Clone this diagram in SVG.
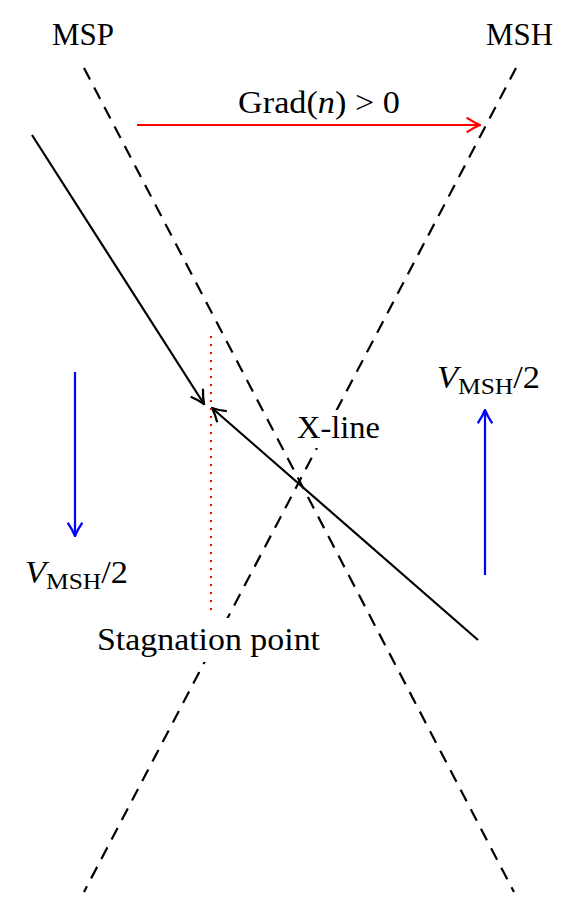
<svg xmlns="http://www.w3.org/2000/svg" width="577" height="919" viewBox="0 0 577 919">
<style>
text{font-family:"Liberation Serif","Times New Roman",serif;font-size:31px;fill:#000}
.dash{stroke:#000;stroke-width:2.2;stroke-dasharray:13 9;fill:none}
.solid{stroke:#000;stroke-width:2.2;fill:none}
.red{stroke:#f00;stroke-width:2.2;fill:none}
.blue{stroke:#00f;stroke-width:2.2;fill:none}
.bg{fill:#fff}
</style>
<defs>
<marker id="ak" viewBox="0 0 12 12" refX="11" refY="6" markerWidth="16" markerHeight="16" markerUnits="userSpaceOnUse" orient="auto"><path d="M1,0.5 Q6,4 11,6 Q6,8 1,11.5" fill="none" stroke="#000" stroke-width="1.7"/></marker>
<marker id="ar" viewBox="0 0 12 12" refX="11" refY="6" markerWidth="16" markerHeight="16" markerUnits="userSpaceOnUse" orient="auto"><path d="M1,0.5 Q6,4 11,6 Q6,8 1,11.5" fill="none" stroke="#f00" stroke-width="1.7"/></marker>
<marker id="ab" viewBox="0 0 12 12" refX="11" refY="6" markerWidth="16" markerHeight="16" markerUnits="userSpaceOnUse" orient="auto"><path d="M1,0.5 Q6,4 11,6 Q6,8 1,11.5" fill="none" stroke="#00f" stroke-width="1.7"/></marker>
</defs>
<rect width="577" height="919" fill="#fff"/>
<g id="connectors">
<line class="dash" x1="84" y1="68" x2="514" y2="892"/>
<line class="dash" x1="516" y1="68" x2="84" y2="892"/>
<line class="solid" x1="32" y1="135" x2="204" y2="404" marker-end="url(#ak)"/>
<line class="solid" x1="478" y1="640" x2="212" y2="408" marker-end="url(#ak)"/>
<line x1="211" y1="336" x2="211" y2="612" stroke="#f00" stroke-width="2" stroke-dasharray="2 6"/>
<line class="red" x1="137" y1="125" x2="480" y2="125" marker-end="url(#ar)"/>
<line class="blue" x1="75" y1="372" x2="75" y2="536" marker-end="url(#ab)"/>
<line class="blue" x1="485" y1="575" x2="485" y2="410" marker-end="url(#ab)"/>
</g>
<g id="msp"><text x="52" y="45" textLength="62" lengthAdjust="spacingAndGlyphs">MSP</text></g>
<g id="msh"><text x="486" y="45" textLength="67" lengthAdjust="spacingAndGlyphs">MSH</text></g>
<g id="grad"><text x="238" y="113" textLength="162" lengthAdjust="spacingAndGlyphs">Grad(<tspan font-style="italic">n</tspan>) &gt; 0</text></g>
<g id="xline"><rect class="bg" x="293" y="410" width="91" height="38"/><text x="297" y="438" textLength="83" lengthAdjust="spacingAndGlyphs">X-line</text></g>
<g id="stagnation"><rect class="bg" x="93" y="618" width="231" height="44"/><text x="97" y="650" textLength="223" lengthAdjust="spacingAndGlyphs">Stagnation point</text></g>
<g id="vleft"><text x="25" y="583" textLength="103" lengthAdjust="spacingAndGlyphs"><tspan font-style="italic">V</tspan><tspan font-size="23" dy="6">MSH</tspan><tspan dy="-6">/2</tspan></text></g>
<g id="vright"><text x="437" y="388" textLength="103" lengthAdjust="spacingAndGlyphs"><tspan font-style="italic">V</tspan><tspan font-size="23" dy="6">MSH</tspan><tspan dy="-6">/2</tspan></text></g>
</svg>
